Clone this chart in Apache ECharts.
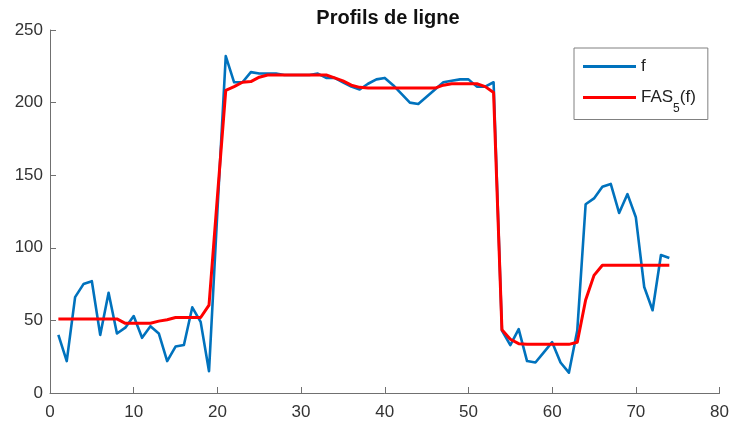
<!DOCTYPE html>
<html>
<head>
<meta charset="utf-8">
<script src="https://cdn.jsdelivr.net/npm/echarts@6/dist/echarts.min.js"></script>
<style>
  html, body { margin: 0; padding: 0; background: #fff; }
  #chart { width: 732px; height: 424px; }
</style>
</head>
<body>
<div id="chart"></div>
<script>
// positions along the profile
var positions = [1, 2, 3, 4, 5, 6, 7, 8, 9, 10, 11, 12, 13, 14, 15, 16, 17, 18, 19, 20,
    21, 22, 23, 24, 25, 26, 27, 28, 29, 30, 31, 32, 33, 34, 35, 36, 37, 38, 39, 40,
    41, 42, 43, 44, 45, 46, 47, 48, 49, 50, 51, 52, 53, 54, 55, 56, 57, 58, 59, 60,
    61, 62, 63, 64, 65, 66, 67, 68, 69, 70, 71, 72, 73, 74];

// f (raw line profile)
var fValues = [40, 22, 66, 75, 77, 40, 69, 41, 45, 53, 38, 46, 41, 22, 32, 33, 59, 49, 15, 125,
    232, 214, 214, 221, 220, 220, 220, 219, 219, 219, 219, 220, 217, 217, 214, 211, 209, 213, 216, 217,
    212, 206, 200, 199, 204, 209, 214, 215, 216, 216, 211, 211, 214, 43, 33, 44, 22, 21, 28, 35,
    21, 14, 43, 130, 134, 142, 144, 124, 137, 121, 73, 57, 95, 93];

// FAS_5(f) (filtered profile)
var fasValues = [51, 51, 51, 51, 51, 51, 51, 51, 48, 48, 48, 48, 49.5, 50.5, 52, 52, 52, 52, 60.5, 135,
    208.5, 211, 214, 214.5, 217.5, 219, 219, 219, 219, 219, 219, 219, 219, 217, 215, 212, 210.5, 210, 210, 210,
    210, 210, 210, 210, 210, 210, 212, 213, 213, 213, 213, 211, 207, 43.5, 37, 34, 33.5, 33.5, 33.5, 33.5,
    33.5, 33.5, 35, 64, 81, 88, 88, 88, 88, 88, 88, 88, 88, 88];

var xTicks = { min: 0, max: 80, interval: 10 };
var yTicks = { min: 0, max: 250, interval: 50 };

function pairs(xs, ys) {
    var out = [];
    for (var i = 0; i < xs.length; i++) out.push([xs[i], ys[i]]);
    return out;
}

var myChart = echarts.init(document.getElementById('chart'));
var font = 'Liberation Sans, Arial, Helvetica, sans-serif';
var axisColor = '#707070';

var option = {
    animation: false,
    backgroundColor: '#fff',
    title: {
        text: 'Profils de ligne',
        left: 383,
        textAlign: 'center',
        top: 3,
        textStyle: { fontFamily: font, fontSize: 20, fontWeight: 'bold', color: '#111' }
    },
    grid: { left: 50, right: 12, top: 30, bottom: 31 },
    legend: {
        orient: 'vertical',
        left: 574,
        top: 48,
        padding: [10, 12, 5, 9],
        itemGap: 14,
        itemWidth: 53,
        itemHeight: 3,
        icon: 'rect',
        borderColor: '#808080',
        borderWidth: 1,
        backgroundColor: '#fff',
        data: ['f', 'FAS5(f)'],
        formatter: function (name) {
            if (name === 'FAS5(f)') return '{n|FAS}{s|5}{n|(f)}';
            return '{n|' + name + '}';
        },
        textStyle: {
            fontFamily: font,
            color: '#222',
            rich: {
                n: { fontFamily: font, fontSize: 17, lineHeight: 34, color: '#222' },
                s: { fontFamily: font, fontSize: 12, lineHeight: 12, color: '#222', verticalAlign: 'bottom' }
            }
        }
    },
    xAxis: {
        type: 'value',
        min: xTicks.min,
        max: xTicks.max,
        interval: xTicks.interval,
        axisLine: { show: true, lineStyle: { color: axisColor, width: 1 } },
        axisTick: { show: true, inside: true, length: 6, lineStyle: { color: axisColor } },
        axisLabel: { fontFamily: font, fontSize: 17, color: '#333', margin: 11 },
        splitLine: { show: false }
    },
    yAxis: {
        type: 'value',
        min: yTicks.min,
        max: yTicks.max,
        interval: yTicks.interval,
        axisLine: { show: true, lineStyle: { color: axisColor, width: 1 } },
        axisTick: { show: true, inside: true, length: 6, lineStyle: { color: axisColor } },
        axisLabel: { fontFamily: font, fontSize: 17, color: '#333', margin: 7 },
        splitLine: { show: false }
    },
    series: [
        {
            name: 'f',
            type: 'line',
            data: pairs(positions, fValues),
            showSymbol: false,
            symbol: 'none',
            color: '#0072BD',
            lineStyle: { color: '#0072BD', width: 2.6, join: 'round' },
            z: 2
        },
        {
            name: 'FAS5(f)',
            type: 'line',
            data: pairs(positions, fasValues),
            showSymbol: false,
            symbol: 'none',
            color: '#FF0000',
            lineStyle: { color: '#FF0000', width: 3, join: 'round' },
            z: 3
        }
    ]
};

option && myChart.setOption(option);
</script>
</body>
</html>
